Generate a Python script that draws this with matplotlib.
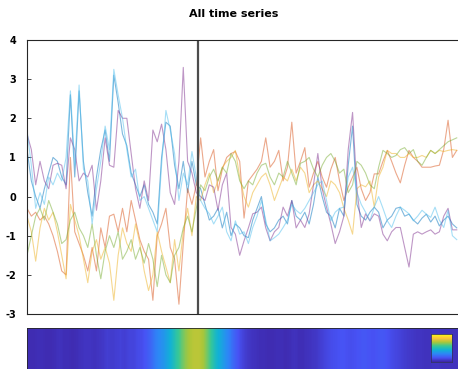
import numpy as np
import matplotlib
matplotlib.use("Agg")
from matplotlib import pyplot as plt
from matplotlib.colors import LinearSegmentedColormap

# series values, one point per time step (left of the marker, then right)
blue = [1.2, 0.4, 0.0, -0.3, 0.2, 0.6, 1.0, 0.9, 0.5, 0.3, 2.6, 0.5, 2.7, 0.9, 0.1, -0.5, 0.5, 1.2, 1.7, 0.9,
        3.1, 2.4, 1.6, 1.3, 0.6, 0.3, 0.0, 0.3, -0.2, -0.4, -0.7, 1.0, 1.9, 1.8, 0.8, 0.2, 0.9, 0.1, 0.9, 0.3,
        0.2, -0.2, -0.6, -0.5, -0.3, -0.8, -0.4, -1.0, -0.7, -0.8, -1.0, -1.05, -0.6, -0.3, 0.0, -0.7, -0.9, -0.8, -0.6, -0.5,
        -0.7, -0.1, -0.5, -0.6, -0.4, -0.7, -0.2, 0.5, 0.0, -0.4, -0.5, -0.8, -0.3, -0.5, 0.8, 1.8, -0.2, -0.5, -0.6, -0.4,
        -0.27, -0.4, -0.8, -0.6, -0.5, -0.3, -0.27, -0.5, -0.45, -0.6, -0.7, -0.55, -0.45, -0.65, -0.5, -0.75, -0.6, -0.5, -0.7, -0.8]
orange = [-0.3, -0.5, -0.4, -0.6, -0.5, -0.7, -1.0, -1.4, -1.9, -2.0, 1.0, -0.9, -1.2, -1.5, -1.9, -1.3, -1.9, -0.8, -1.3, -0.5,
          -0.45, -0.9, -0.3, -0.9, -0.1, -0.6, -1.1, -1.4, -1.6, -2.65, -1.0, -0.7, -0.3, -1.3, -1.6, -2.75, -1.2, 0.2, -0.2, 0.3,
          1.5, 0.5, 0.9, 1.2, 0.15, 0.7, 1.0, 1.1, 1.15, 0.9, -0.55, 0.4, 0.55, 0.7, 0.9, 1.5, 0.75, 0.9, 1.18, 0.4,
          0.75, 1.9, 0.6, 0.9, 1.25, 0.24, 0.6, 0.9, 0.5, 0.24, 0.7, 1.0, 0.4, -0.1, 0.24, 0.5, 0.75, 0.2, -0.1, 0.1,
          0.58, 0.58, 0.9, 1.18, 0.9, 0.6, 0.35, 0.8, 1.18, 1.0, 0.9, 0.75, 0.75, 0.75, 0.78, 0.8, 1.2, 1.95, 1.0, 1.18]
yellow = [-0.5, -0.9, -1.65, -0.8, -0.3, -0.6, -0.4, -0.9, -1.5, -2.1, -0.2, -0.6, -1.0, -1.6, -2.2, -1.4, -1.1, -1.6, -1.3, -1.7,
          -2.65, -1.5, -0.8, -1.2, -1.4, -0.7, -1.2, -1.9, -2.4, -2.0, -0.9, -1.4, -1.8, -2.2, -1.1, -1.9, -0.9, -0.3, -1.0, 0.0,
          -0.1, 0.3, 0.6, 0.1, 0.4, 0.75, 0.9, 1.0, 1.18, 0.5, 0.0, -0.27, 0.1, 0.3, 0.5, 0.6, 0.3, -0.1, 0.2, 0.5,
          0.4, 0.7, 0.4, 0.75, 0.6, 0.1, 0.3, 0.4, 0.2, 0.0, 0.4, 0.3, 0.1, -0.3, -0.6, -0.96, 0.2, 0.3, 0.25, 0.4,
          -0.27, 0.5, 0.75, 1.18, 1.1, 1.1, 1.0, 1.0, 1.1, 1.0, 1.0, 1.05, 1.0, 1.18, 1.1, 1.18, 1.15, 1.18, 1.2, 1.18]
purple = [1.6, 1.2, 0.3, 0.9, 0.4, 0.2, 0.8, 0.85, 0.8, 0.2, 1.5, 1.2, 0.4, 0.6, 0.5, 0.8, -0.35, 0.4, 1.5, 0.8,
          0.75, 2.2, 2.0, 2.0, 1.1, 0.2, -0.3, 0.4, -0.1, 1.7, 1.4, 1.85, 1.2, 0.1, -0.2, 0.9, 3.3, 0.9, 0.6, 0.1,
          0.0, -0.1, 0.3, 0.24, -0.35, 0.3, 0.6, -0.79, -0.96, -1.5, -1.13, -0.8, -0.44, -0.4, -0.27, -0.8, -1.13, -0.9, -0.79, -0.27,
          -0.5, -0.1, -0.8, -0.6, -0.79, -0.44, 0.3, 1.1, 0.2, -0.27, -0.7, -1.2, -0.9, -0.5, 1.2, 2.15, 0.2, -0.79, -0.44, -0.62,
          -0.44, -0.5, -0.96, -1.13, -0.9, -0.79, -0.79, -1.3, -1.8, -0.96, -0.9, -0.96, -0.9, -0.85, -0.96, -0.9, -0.5, -0.3, -0.85, -0.85]
green = [-1.5, -1.0, -0.5, -0.3, -0.6, -0.1, -0.4, -0.7, -1.2, -1.1, -0.6, -0.4, -0.8, -1.0, -1.3, -0.7, -1.5, -2.1, -1.4, -1.0,
         -1.3, -0.9, -1.6, -1.4, -1.1, -1.6, -1.3, -1.7, -1.2, -1.6, -2.3, -1.5, -2.0, -2.2, -1.5, -1.3, -0.8, -0.5, -0.9, -0.3,
         0.3, 0.15, 0.5, 0.7, 0.4, 0.75, 0.6, 1.1, 0.9, 0.4, 0.2, 0.4, 0.3, 0.6, 0.8, 0.85, 0.5, 0.3, 0.6, 0.5,
         0.9, 0.6, 0.3, 0.85, 0.9, 1.0, 0.7, 0.5, 0.8, 1.0, 1.1, 0.9, 0.6, 0.7, 0.1, 0.3, 0.9, 0.8, 0.6, 0.3,
         0.2, 0.75, 1.18, 1.1, 1.0, 1.05, 1.2, 1.25, 1.1, 1.2, 0.9, 0.8, 1.0, 1.18, 1.1, 1.2, 1.3, 1.4, 1.45, 1.5]
light_blue = [1.7, 0.8, -0.3, 0.1, -0.2, 0.5, 0.3, 0.6, 0.4, 1.0, 2.7, 0.8, 2.85, 0.7, 0.4, -0.7, 0.2, 0.9, 1.8, 1.2,
              3.25, 2.6, 2.0, 1.2, 0.5, 0.7, -0.1, 0.0, -0.3, -0.6, -0.9, 0.8, 2.2, 1.7, 1.1, -0.1, 0.6, 0.3, 1.15, 0.5,
              -0.1, -0.3, -0.44, -0.7, -0.5, -0.27, -0.9, -1.13, -0.62, -0.96, -0.9, -1.2, -0.79, -0.5, -0.1, -0.6, -1.13, -1.05, -0.96, -0.79,
              -0.6, -0.2, -0.35, -0.44, -0.3, -0.1, 0.1, 0.3, 0.4, -0.1, -0.62, -0.4, -0.3, -0.27, 0.5, 0.75, 0.1, -0.2, -0.4, -0.62,
              -0.27, 0.0, -0.3, -0.62, -0.79, -0.5, -0.27, -0.35, -0.44, -0.62, -0.5, -0.35, -0.45, -0.53, -0.27, -0.6, -0.79, -0.35, -1.0, -1.1]

# strength along time, shown as the strip below
strength = [0.02, 0.02, 0.03, 0.03, 0.02, 0.02, 0.03, 0.04, 0.03, 0.03, 0.02, 0.03, 0.04, 0.05, 0.05, 0.04, 0.05,
            0.06, 0.08, 0.07, 0.08, 0.09, 0.08, 0.1, 0.1, 0.12, 0.13, 0.16, 0.2, 0.26, 0.3, 0.34, 0.4, 0.47, 0.55,
            0.62, 0.68, 0.72, 0.74, 0.74, 0.71, 0.64, 0.55, 0.46, 0.4, 0.33, 0.27, 0.2, 0.15, 0.1, 0.07,
            0.05, 0.04, 0.03, 0.03, 0.02, 0.02, 0.03, 0.03, 0.02, 0.03, 0.04, 0.03, 0.03, 0.04, 0.05, 0.06, 0.08, 0.1, 0.12,
            0.13, 0.14, 0.15, 0.14, 0.13, 0.14, 0.15, 0.16, 0.15, 0.14, 0.15, 0.16, 0.15, 0.13, 0.11, 0.1,
            0.08, 0.07, 0.06, 0.05, 0.05, 0.04, 0.04, 0.05, 0.05, 0.04, 0.04, 0.04, 0.04, 0.04]

switch_point = 39.3
y_ticks = [-3, -2, -1, 0, 1, 2, 3, 4]

series = [blue, orange, yellow, purple, green, light_blue]
colors = ["#0072BD", "#D95319", "#EDB120", "#7E2F8E", "#77AC30", "#4DBEEE"]

parula = LinearSegmentedColormap.from_list("parula", [
    (0.2422, 0.1504, 0.6603), (0.2810, 0.3228, 0.9579), (0.1786, 0.5289, 0.9682),
    (0.0689, 0.6948, 0.8394), (0.2161, 0.7843, 0.5923), (0.6720, 0.7793, 0.2227),
    (0.9970, 0.7659, 0.2199), (0.9769, 0.9839, 0.0805)])

plt.rcParams["axes.unicode_minus"] = False

fig = plt.figure(figsize=(4.58, 3.69), dpi=100)
ax = fig.add_axes([27/458, 55/369, 0.95, 274/369])
for s, c in zip(series, colors):
    ax.plot(np.arange(len(s)), s, color=c, lw=0.8, alpha=0.5)
ax.axvline(switch_point, color="#4d4d4d", lw=1.6)
ax.set_xlim(0, 431/4.3)
ax.set_ylim(-3, 4)
ax.set_yticks(y_ticks)
ax.set_xticks([])
ax.tick_params(axis="y", direction="in", length=3, width=0.6, color="#262626",
               labelsize=7, pad=8)
for lab in ax.get_yticklabels():
    lab.set_fontweight("bold")
ax.spines["right"].set_visible(False)
for side in ["left", "top", "bottom"]:
    ax.spines[side].set_color("#262626")
    ax.spines[side].set_linewidth(0.8)

fig.text(234/458, 1 - 14/369, "All time series", ha="center", va="center",
         fontsize=8, fontweight="bold")

# strip
ax2 = fig.add_axes([27/458, -0.06, 0.95, 41/369 + 0.06])
ax2.imshow(np.array([strength]), aspect="auto", cmap=parula, vmin=0, vmax=1,
           interpolation="bilinear", extent=(0, len(strength), 0, 1))
ax2.set_xlim(0, 431/4.3)
ax2.set_xticks([])
ax2.set_yticks([])
for side in ax2.spines:
    ax2.spines[side].set_color("#262626")
    ax2.spines[side].set_linewidth(0.6)

# small colour key
ax3 = fig.add_axes([431/458, 7/369, 21/458, 28/369])
ax3.imshow(np.linspace(1, 0, 50).reshape(-1, 1), aspect="auto", cmap=parula,
           vmin=0, vmax=1)
ax3.set_xticks([])
ax3.set_yticks([])
for side in ax3.spines:
    ax3.spines[side].set_color("#333366")
    ax3.spines[side].set_linewidth(0.6)

fig.savefig("out.png", dpi=100)
